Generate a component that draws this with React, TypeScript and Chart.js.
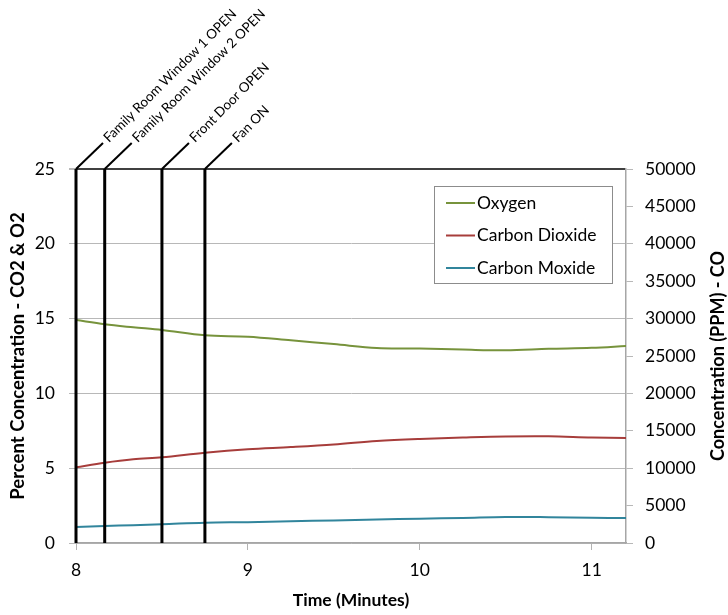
import React, { useEffect, useRef } from 'react';
import { Chart, registerables } from 'chart.js';

Chart.register(...registerables);

// ---- data ----
const times = [8, 8.167, 8.333, 8.5, 8.75, 9, 9.25, 9.5, 9.75, 10, 10.25, 10.5, 10.75, 11, 11.2];
const oxygen = [14.9, 14.62, 14.42, 14.24, 13.88, 13.79, 13.55, 13.3, 13.03, 13.0, 12.93, 12.88, 12.98, 13.05, 13.17];
const carbonDioxide = [5.06, 5.37, 5.6, 5.73, 6.04, 6.27, 6.41, 6.58, 6.82, 6.96, 7.05, 7.12, 7.13, 7.05, 7.02];
const carbonMonoxide = [2150, 2270, 2380, 2500, 2720, 2790, 2900, 3020, 3150, 3250, 3350, 3480, 3450, 3370, 3340];
const seriesLabels = ['Oxygen', 'Carbon Dioxide', 'Carbon Moxide'];
const seriesColors = ['#77933C', '#A73D3B', '#31859C'];

const eventTimes = [8, 8.167, 8.5, 8.75];
const eventLabels = ['Family Room Window 1 OPEN', 'Family Room Window 2 OPEN', 'Front Door OPEN', 'Fan ON'];

const xTicks = [8, 9, 10, 11];
const leftTicks = [0, 5, 10, 15, 20, 25];
const rightTicks = [0, 5000, 10000, 15000, 20000, 25000, 30000, 35000, 40000, 45000, 50000];

const xTitle = 'Time (Minutes)';
const leftTitle = 'Percent Concentration - CO2 & O2';
const rightTitle = 'Concentration (PPM) - CO';

const FONT = 'Lato';

const eventPlugin = {
  id: 'events',
  afterDatasetsDraw(chart: any) {
    const { ctx, scales } = chart;
    const yTop = scales.y.getPixelForValue(25);
    const yBot = scales.y.getPixelForValue(0);
    ctx.save();
    eventTimes.forEach((t, i) => {
      const x = scales.x.getPixelForValue(t);
      ctx.strokeStyle = '#000';
      ctx.lineWidth = 3;
      ctx.beginPath();
      ctx.moveTo(x, yBot);
      ctx.lineTo(x, yTop);
      ctx.stroke();
      ctx.lineWidth = 2;
      ctx.beginPath();
      ctx.moveTo(x, yTop);
      ctx.lineTo(x + 27, yTop - 26);
      ctx.stroke();
      ctx.save();
      ctx.translate(x + 30, yTop - 29);
      ctx.rotate(-Math.PI / 4);
      ctx.font = `13.5px ${FONT}`;
      ctx.fillStyle = '#000';
      ctx.textBaseline = 'middle';
      ctx.textAlign = 'left';
      ctx.fillText(eventLabels[i], 0, 0);
      ctx.restore();
    });
    ctx.restore();
  },
};

const rightTitlePlugin = {
  id: 'rightTitle',
  afterDraw(chart: any) {
    const { ctx, chartArea } = chart;
    ctx.save();
    ctx.translate(chart.width - 10, (chartArea.top + chartArea.bottom) / 2);
    ctx.rotate(-Math.PI / 2);
    ctx.font = `bold 18px ${FONT}`;
    ctx.fillStyle = '#000';
    ctx.textAlign = 'center';
    ctx.textBaseline = 'middle';
    ctx.fillText(rightTitle, 0, 0);
    ctx.restore();
  },
};

const legendPlugin = {
  id: 'boxLegend',
  afterDraw(chart: any) {
    const { ctx, chartArea } = chart;
    const w = 178;
    const h = 97;
    const left = chartArea.right - 14 - w;
    const top = chartArea.top + 17;
    ctx.save();
    ctx.fillStyle = '#fff';
    ctx.fillRect(left, top, w, h);
    ctx.strokeStyle = '#8c8c8c';
    ctx.lineWidth = 1;
    ctx.strokeRect(left + 0.5, top + 0.5, w, h);
    chart.data.datasets.forEach((ds: any, i: number) => {
      const cy = top + 17 + i * 32.5;
      ctx.strokeStyle = ds.borderColor;
      ctx.lineWidth = 2;
      ctx.beginPath();
      ctx.moveTo(left + 12, cy);
      ctx.lineTo(left + 41, cy);
      ctx.stroke();
      ctx.fillStyle = '#000';
      ctx.font = `17.5px ${FONT}`;
      ctx.textBaseline = 'middle';
      ctx.textAlign = 'left';
      ctx.fillText(ds.label, left + 43, cy);
    });
    ctx.restore();
  },
};

export default function App() {
  const ref = useRef<HTMLCanvasElement>(null);
  useEffect(() => {
    document.body.style.margin = '0';
    const mk = (vals: number[]) => times.map((t, i) => ({ x: t, y: vals[i] }));
    const chart = new Chart(ref.current as HTMLCanvasElement, {
      type: 'line',
      data: {
        datasets: [
          { label: seriesLabels[0], data: mk(oxygen), borderColor: seriesColors[0], yAxisID: 'y' },
          { label: seriesLabels[1], data: mk(carbonDioxide), borderColor: seriesColors[1], yAxisID: 'y' },
          { label: seriesLabels[2], data: mk(carbonMonoxide), borderColor: seriesColors[2], yAxisID: 'y1' },
        ].map((d) => ({ ...d, borderWidth: 2, pointRadius: 0, tension: 0.35, fill: false })),
      },
      options: {
        animation: false,
        responsive: false,
        devicePixelRatio: 1,
        layout: { padding: { top: 169, left: 0, right: 0, bottom: 0 } },
        plugins: { legend: { display: false }, tooltip: { enabled: false } },
        scales: {
          x: {
            type: 'linear',
            min: 8,
            max: 11.2,
            afterBuildTicks: (s: any) => { s.ticks = xTicks.map((v) => ({ value: v })); },
            afterFit: (s: any) => { s.height = 72; },
            grid: { drawOnChartArea: false, drawTicks: true, tickLength: 7, color: '#b3b3b3' },
            border: { display: true, color: '#a6a6a6', width: 1.5 },
            ticks: { color: '#000', font: { family: FONT, size: 17.5 }, padding: 10, maxRotation: 0, callback: (v: any) => String(v) },
            title: { display: true, text: xTitle, color: '#000', font: { family: FONT, size: 17.5, weight: 'bold' }, padding: { top: 0, bottom: 4 } },
          },
          y: {
            type: 'linear',
            position: 'left',
            min: 0,
            max: 25,
            afterBuildTicks: (s: any) => { s.ticks = leftTicks.map((v) => ({ value: v })); },
            afterFit: (s: any) => { s.width = 76; },
            grid: {
              drawTicks: true,
              tickLength: 7,
              color: (c: any) => (c.tick && c.tick.value === 25 ? '#404040' : '#b8b8b8'),
              lineWidth: (c: any) => (c.tick && c.tick.value === 25 ? 2 : 1),
              tickColor: '#b8b8b8',
            },
            border: { display: true, color: '#a6a6a6' },
            ticks: { color: '#000', font: { family: FONT, size: 17.5 }, padding: 14, callback: (v: any) => String(v) },
            title: { display: true, text: leftTitle, color: '#000', font: { family: FONT, size: 18.5, weight: 'bold' }, padding: { top: 7, bottom: 0 } },
          },
          y1: {
            type: 'linear',
            position: 'right',
            min: 0,
            max: 50000,
            afterBuildTicks: (s: any) => { s.ticks = rightTicks.map((v) => ({ value: v })); },
            afterFit: (s: any) => { s.width = 102; },
            grid: { drawOnChartArea: false, drawTicks: true, tickLength: 7, color: '#b8b8b8' },
            border: { display: true, color: '#a6a6a6', width: 1.5 },
            ticks: { color: '#000', font: { family: FONT, size: 17.5 }, padding: 12, callback: (v: any) => String(v) },
            title: { display: false },
          },
        },
      },
      plugins: [eventPlugin, legendPlugin, rightTitlePlugin],
    } as any);
    return () => chart.destroy();
  }, []);
  return (
    <div style={{ position: 'absolute', left: 0, top: 0, width: 728, height: 615 }}>
      <canvas ref={ref} width={728} height={615} style={{ width: 728, height: 615 }} />
    </div>
  );
}
